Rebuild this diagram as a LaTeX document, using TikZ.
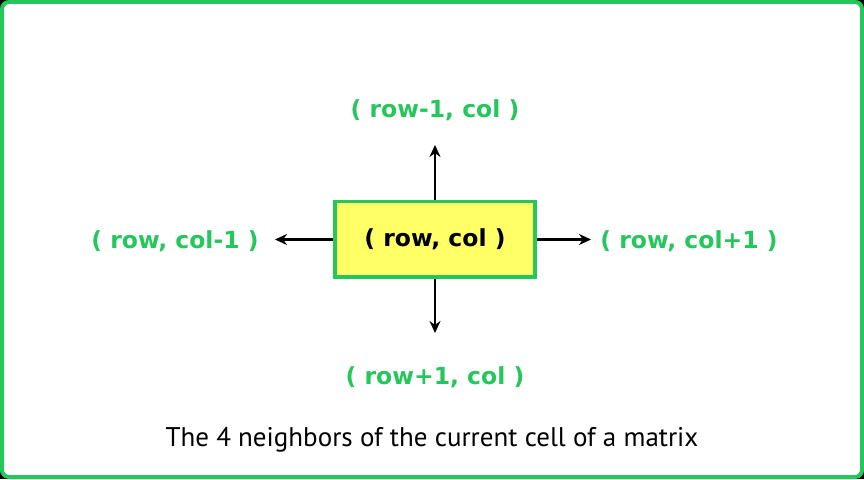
\documentclass[tikz,border=0pt]{standalone}
\usepackage{fontspec}
\setmainfont{DejaVu Sans}
\newfontfamily\titlefont{PT Sans}
\usetikzlibrary{arrows.meta}
\definecolor{gborder}{RGB}{37,198,92}
\definecolor{gtext}{RGB}{37,198,92}
\definecolor{cellyellow}{RGB}{255,255,102}
\tikzset{
  x=1pt,y=1pt,
  nbr/.style={text=gtext,font=\fontsize{23.5}{28}\selectfont\bfseries,inner sep=0pt},
  cellbox/.style={draw=gborder,line width=3.5pt,fill=cellyellow,minimum width=200pt,minimum height=75.5pt,inner sep=0pt,font=\fontsize{23.5}{28}\selectfont\bfseries},
  conn/.style={-{Stealth[length=12pt,width=11pt]},line width=2.5pt,black},
}
\begin{document}
\begin{tikzpicture}
\useasboundingbox (0,0) rectangle (864,479);
\fill[black] (0,0) rectangle (864,479);
\draw[draw=gborder,fill=white,line width=4pt,rounded corners=7pt] (2,2) rectangle (862,477);
\node[cellbox] (c) at (435,239.5) {( row, col )};
\coordinate (tu) at (435,334);
\coordinate (td) at (435,146);
\coordinate (tl) at (275,239.5);
\coordinate (tr) at (591,239.5);
\draw[conn] (c.north) -- (tu);
\draw[conn] (c.south) -- (td);
\draw[conn] (c.west) -- (tl);
\draw[conn] (c.east) -- (tr);
\node[nbr] (u) at (435,369) {( row-1, col )};
\node[nbr] (d) at (435,102) {( row+1, col )};
\node[nbr] (l) at (175,237.5) {( row, col-1 )};
\node[nbr] (r) at (689,237.5) {( row, col+1 )};
\node[font=\titlefont\fontsize{27}{32}\selectfont,inner sep=0pt] (t) at (432,39) {The 4 neighbors of the current cell of a matrix};
\end{tikzpicture}
\end{document}
